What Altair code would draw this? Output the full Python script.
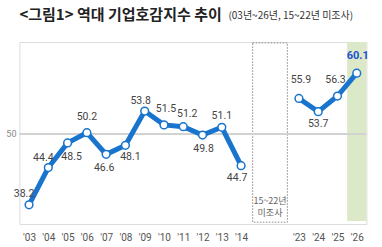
import altair as alt
import pandas as pd

# ---- data ----
years = ["'03", "'04", "'05", "'06", "'07", "'08", "'09", "'10", "'11", "'12", "'13", "'14",
         "'23", "'24", "'25", "'26"]
values = [38.2, 44.4, 48.5, 50.2, 46.6, 48.1, 53.8, 51.5, 51.2, 49.8, 51.1, 44.7,
          55.9, 53.7, 56.3, 60.1]
segments = ["03-14"] * 12 + ["23-26"] * 4
title_main = "<그림1> 역대 기업호감지수 추이"
title_note = "(03년~26년, 15~22년 미조사)"
gap_text = ["15~22년", "미조사"]

# ---- layout (label offsets in px relative to point) ----
label_dx = [-5, -5, 4, 0, -2, 5, -4, 2, 4, 1, 0, -4, 2, 0, -2, 1]
label_dy = [-11, -10, 14, -16, 14, 12, -10, -16, -13, 14, -11, 12, -18, 12, -16, -17]

W, H = 347, 182
XMIN, XMAX = -0.5, 17.5
YMIN, YMAX = 35.0, 65.3
px_x = W / (XMAX - XMIN)
px_y = H / (YMAX - YMIN)

slots = list(range(12)) + [14, 15, 16, 17]
df = pd.DataFrame({
    "year": years, "value": values, "seg": segments, "slot": slots,
    "dx": label_dx, "dy": label_dy,
})
df["lx"] = df["slot"] + df["dx"] / px_x
df["ly"] = df["value"] - df["dy"] / px_y
df["txt"] = df["value"].map(lambda v: f"{v:.1f}")

axis_labels = [""] * 18
for s, y in zip(slots, years):
    axis_labels[s] = y
label_expr = "[" + ",".join('"' + l + '"' for l in axis_labels) + "][datum.value]"

xs = alt.Scale(domain=[XMIN, XMAX], nice=False, zero=False)
ys = alt.Scale(domain=[YMIN, YMAX], nice=False, zero=False)
x_axis = alt.Axis(values=slots, labelExpr=label_expr, ticks=False, grid=False,
                  labelOverlap=False, labelBound=False, labelFlush=False,
                  domainColor="#dddddd", domainWidth=1, labelColor="#555555",
                  labelFontSize=10, labelFont="Roboto", labelPadding=8, title=None)

BLUE = "#1874cd"
base = alt.Chart(df)
one = pd.DataFrame({"a": [0]})

band = alt.Chart(one).mark_rect(color="#dce9c8").encode(
    x=alt.X(datum=16.5, scale=xs, axis=x_axis), x2=alt.datum(17.5),
    y=alt.datum(YMAX, scale=ys, axis=None), y2=alt.datum(35.5),
)
gapbox = alt.Chart(one).mark_rect(
    fillOpacity=0, stroke="#8a8a8a", strokeWidth=1, strokeDash=[1.5, 1.5]
).encode(
    x=alt.X(datum=11.6, axis=x_axis), x2=alt.datum(13.4),
    y=alt.datum(65.15), y2=alt.datum(35.3),
)
grid = alt.Chart(one).mark_rule(color="#d2d2d2", strokeWidth=2).encode(
    y=alt.datum(50), x=alt.value(0), x2=alt.value(W)
)
fifty = alt.Chart(one).mark_text(
    text="50", fontSize=9, color="#888888", font="Roboto", align="center", baseline="middle"
).encode(y=alt.datum(50), x=alt.value(-8))

gap1 = alt.Chart(one).mark_text(
    text=gap_text[0], fontSize=9, color="#666666", font="Noto Sans CJK KR",
    align="center", baseline="middle"
).encode(x=alt.X(datum=12.5, axis=x_axis), y=alt.value(159))
gap2 = alt.Chart(one).mark_text(
    text=gap_text[1], fontSize=9, color="#666666", font="Noto Sans CJK KR",
    align="center", baseline="middle"
).encode(x=alt.X(datum=12.5, axis=x_axis), y=alt.value(171))

line = base.mark_line(color=BLUE, strokeWidth=5).encode(
    x=alt.X("slot:Q", axis=x_axis),
    y=alt.Y("value:Q"),
    detail="seg:N",
)
points = base.mark_point(filled=True, fill="white", stroke=BLUE, strokeWidth=1.5,
                         size=60, opacity=1).encode(
    x=alt.X("slot:Q", axis=x_axis), y=alt.Y("value:Q"),
)
labels = base.transform_filter("datum.year != \"'26\"").mark_text(
    fontSize=10.5, color="#444444", font="Roboto", align="center", baseline="middle"
).encode(x=alt.X("lx:Q", axis=x_axis), y=alt.Y("ly:Q"), text="txt:N")
last = base.transform_filter("datum.year == \"'26\"").mark_text(
    fontSize=11, color="#2150d0", font="Roboto", fontWeight="bold", align="center",
    baseline="middle"
).encode(x=alt.X("lx:Q", axis=x_axis), y=alt.Y("ly:Q"), text="txt:N")

t1 = alt.Chart(one).mark_text(
    text=title_main, fontSize=15, fontWeight="bold", color="#222222",
    font="Noto Sans CJK KR", align="left", baseline="middle"
).encode(x=alt.value(0), y=alt.value(-27))
t2 = alt.Chart(one).mark_text(
    text=title_note, fontSize=10, color="#333333",
    font="Noto Sans CJK KR", align="left", baseline="middle"
).encode(x=alt.value(209), y=alt.value(-26))

chart = alt.layer(band, gapbox, grid, fifty, gap1, gap2, line, points, labels, last, t1, t2).properties(
    width=W, height=H,
    autosize=alt.AutoSizeParams(type="none"),
    padding={"left": 19.4, "top": 42, "right": 382 - 19.4 - W, "bottom": 247 - 42 - H},
).configure_view(stroke=None).configure(background="white")

chart.save("out.html", embed_options={"renderer": "svg", "actions": False})
